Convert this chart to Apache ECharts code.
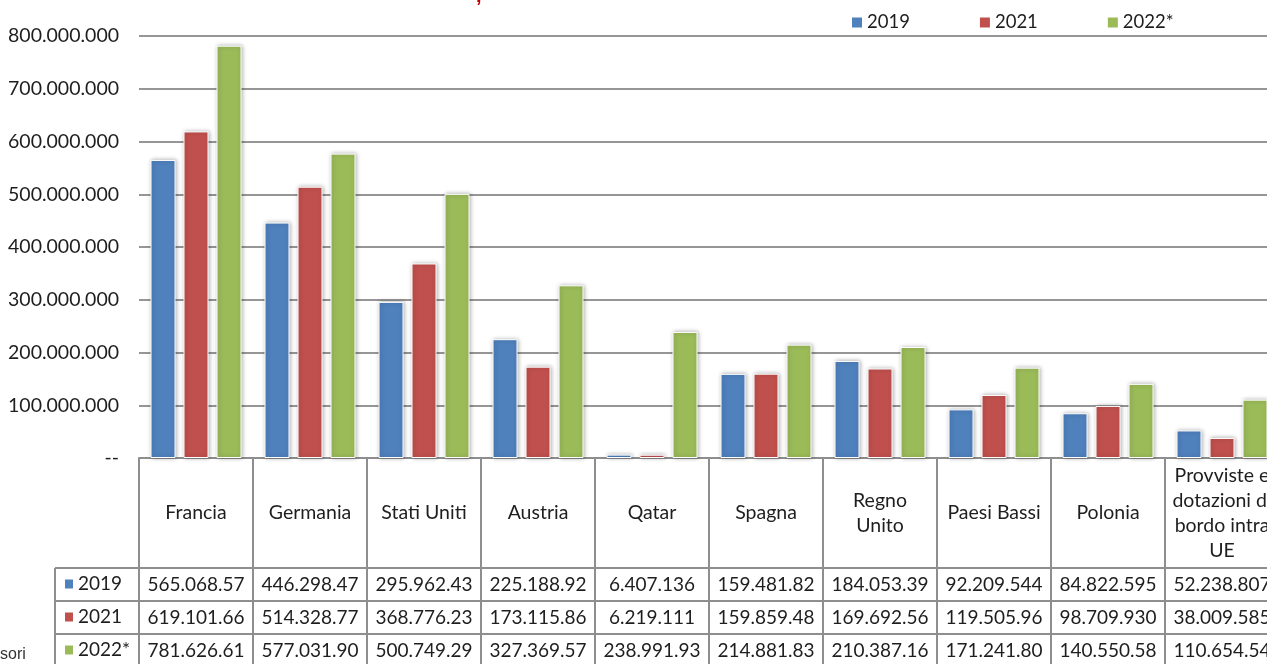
<!DOCTYPE html>
<html>
<head>
<meta charset="utf-8">
<script src="https://cdn.jsdelivr.net/npm/echarts@6/dist/echarts.min.js"></script>
<style>
html,body{margin:0;padding:0;background:#fff;overflow:hidden;width:1267px;height:664px;}
#chart{width:1282px;height:700px;}
</style>
</head>
<body>
<div id="chart"></div>
<script>
// ---- data ----
const categories = ['Francia','Germania','Stati Uniti','Austria','Qatar','Spagna','Regno Unito','Paesi Bassi','Polonia','Provviste e dotazioni di bordo intra UE'];
const categoryLabels = ['Francia','Germania','Stati Uniti','Austria','Qatar','Spagna','Regno\nUnito','Paesi Bassi','Polonia','Provviste e\ndotazioni di\nbordo intra\nUE'];
const seriesNames = ['2019','2021','2022*'];
const values2019 = [565068570, 446298470, 295962430, 225188920, 6407136, 159481820, 184053390, 92209544, 84822595, 52238807];
const values2021 = [619101660, 514328770, 368776230, 173115860, 6219111, 159859480, 169692560, 119505960, 98709930, 38009585];
const values2022 = [781626610, 577031900, 500749290, 327369570, 238991930, 214881830, 210387160, 171241800, 140550580, 110654540];
const yTicks = [0, 100000000, 200000000, 300000000, 400000000, 500000000, 600000000, 700000000, 800000000];

// ---- layout / style ----
const FONT = 'Lato';
const TXT = '#1e1e1e';
const LINE = '#8e8e8e';
const COLORS = ['#4F81BD', '#C0504D', '#9BBB59'];
const GRID = {left: 139, top: 36, width: 1140, height: 422};
const HEADER_H = 110;
const ROW_H = 33;
const LEFT_COL_X = 55;

const allValues = [values2019, values2021, values2022];
function dots(n) {
  return String(Math.round(n)).replace(/\B(?=(\d{3})+(?!\d))/g, '.');
}
// Excel data table cells clip text wider than the column (10 chars visible)
function cellText(n) { return dots(n).slice(0, 10); }

const chart = echarts.init(document.getElementById('chart'), null, {renderer: 'canvas'});

const xAxes = [{
  type: 'category', data: categories, position: 'bottom',
  axisLine: {show: true, lineStyle: {color: LINE, width: 2}},
  axisTick: {show: true, interval: 0, length: 260, lineStyle: {color: LINE, width: 2}},
  axisLabel: {
    interval: 0, margin: HEADER_H / 2, verticalAlign: 'middle', align: 'center',
    formatter: (v, i) => categoryLabels[i],
    fontFamily: FONT, fontSize: 19.5, color: TXT, lineHeight: 25
  },
  splitLine: {show: false}
}];
allValues.forEach((vals, r) => {
  xAxes.push({
    type: 'category', data: categories, position: 'bottom',
    offset: HEADER_H + r * ROW_H,
    axisLine: {show: true, lineStyle: {color: LINE, width: 2}},
    axisTick: {show: false},
    axisLabel: {
      interval: 0, margin: ROW_H / 2, verticalAlign: 'middle', align: 'center',
      formatter: (v, i) => cellText(vals[i]),
      fontFamily: FONT, fontSize: 19, color: TXT
    },
    splitLine: {show: false}
  });
});

const gBottom = GRID.top + GRID.height;
const rowTops = [0, 1, 2].map(r => gBottom + HEADER_H + r * ROW_H);

const option = {
  animation: false,
  backgroundColor: '#fff',
  grid: {left: GRID.left, top: GRID.top, width: GRID.width, height: GRID.height, containLabel: false},
  legend: [{
    data: seriesNames, left: 852, top: 13, padding: 0, icon: 'rect', itemWidth: 10, itemHeight: 10, itemGap: 70,
    selectedMode: false, itemStyle: {borderWidth: 0, shadowBlur: 0},
    textStyle: {fontFamily: FONT, fontSize: 18.5, color: TXT}
  }, {
    data: seriesNames, orient: 'vertical', left: 65, top: rowTops[0] + 6, padding: 0, icon: 'rect',
    itemWidth: 8, itemHeight: 9, itemGap: 13, selectedMode: false,
    itemStyle: {borderWidth: 0, shadowBlur: 0},
    textStyle: {fontFamily: FONT, fontSize: 19, color: TXT, lineHeight: 20}
  }],
  xAxis: xAxes,
  yAxis: {
    type: 'value', min: yTicks[0], max: yTicks[yTicks.length - 1], interval: yTicks[1] - yTicks[0],
    axisLine: {show: false}, axisTick: {show: false},
    axisLabel: {
      margin: 20, fontFamily: FONT, fontSize: 19.5, color: TXT,
      formatter: v => v === 0 ? '--' : dots(v)
    },
    splitLine: {show: true, lineStyle: {color: '#969696', width: 2}}
  },
  series: allValues.map((vals, i) => ({
    name: seriesNames[i], type: 'bar', data: vals, xAxisIndex: 0,
    barWidth: 25, barGap: '32%',
    itemStyle: {
      color: COLORS[i], borderColor: '#ffffff', borderWidth: 1,
      shadowBlur: 4, shadowColor: 'rgba(0,0,0,0.3)', shadowOffsetX: 1, shadowOffsetY: 0
    }
  })),
  graphic: [
    // left column (series names) borders of the data table
    {type: 'line', shape: {x1: LEFT_COL_X, y1: rowTops[0], x2: LEFT_COL_X, y2: 700}, style: {stroke: LINE, lineWidth: 2}},
    ...rowTops.map(y => ({type: 'line', shape: {x1: LEFT_COL_X, y1: y, x2: GRID.left, y2: y}, style: {stroke: LINE, lineWidth: 2}})),
    // clipped fragments of surrounding text
    {type: 'text', left: 0, top: 647, style: {text: 'sori', font: '16px "Liberation Sans"', fill: '#333'}},
    {type: 'text', left: 476, top: -14, style: {text: ',', font: 'bold 20px "Liberation Sans"', fill: '#c00000'}}
  ]
};
chart.setOption(option);
</script>
</body>
</html>
